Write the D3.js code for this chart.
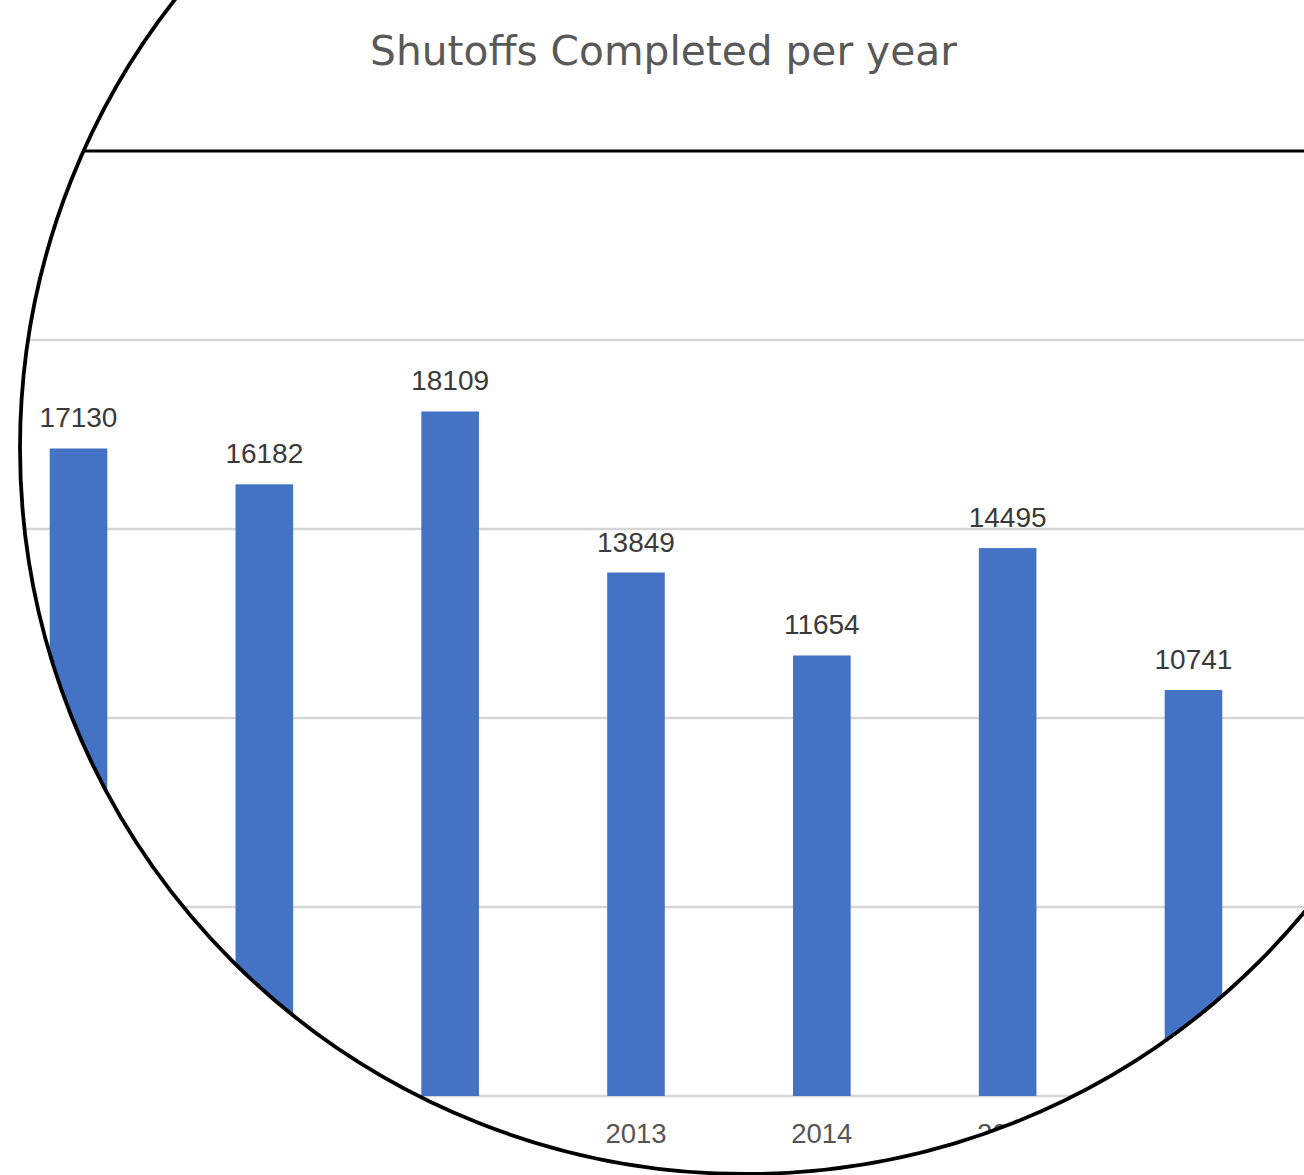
<!DOCTYPE html>
<html>
<head>
<meta charset="utf-8">
<script src="https://cdn.jsdelivr.net/npm/d3@7"></script>
<style>
  html, body { margin: 0; padding: 0; background: #ffffff; }
  svg { display: block; }
</style>
</head>
<body>
<div id="chart"></div>
<script>
const title = "Shutoffs Completed per year";
const years = ["2010", "2011", "2012", "2013", "2014", "2015", "2016"];
const shutoffs = [17130, 16182, 18109, 13849, 11654, 14495, 10741];
const gridValues = [0, 5000, 10000, 15000, 20000];
const topValue = 25000;

const W = 1304, H = 1175;
const svg = d3.select("#chart").append("svg").attr("width", W).attr("height", H);
svg.append("rect").attr("width", W).attr("height", H).attr("fill", "#ffffff");

// magnifier lens
const lens = { cx: 746, cy: 448, r: 726 };
svg.append("defs").append("clipPath").attr("id", "lens")
  .append("circle").attr("cx", lens.cx).attr("cy", lens.cy).attr("r", lens.r);

const g = svg.append("g").attr("clip-path", "url(#lens)");

const step = 185.83;
const x = d3.scaleBand()
  .domain(years)
  .range([78.5 - step / 2, 78.5 - step / 2 + step * years.length])
  .paddingInner(0.69)
  .paddingOuter(0.345);

const y = d3.scaleLinear().domain([0, topValue]).range([1096, 151]);

// gridlines
g.selectAll("line.grid").data(gridValues).join("line")
  .attr("class", "grid")
  .attr("x1", 0).attr("x2", W)
  .attr("y1", d => y(d)).attr("y2", d => y(d))
  .attr("stroke", "#d6d6d6").attr("stroke-width", 2.4);

// top line
g.append("line")
  .attr("x1", 0).attr("x2", W)
  .attr("y1", y(topValue)).attr("y2", y(topValue))
  .attr("stroke", "#000000").attr("stroke-width", 2.8);

// title
const titleText = g.append("text")
  .attr("x", 663.5).attr("y", 65)
  .attr("text-anchor", "middle")
  .attr("font-family", "'DejaVu Sans', sans-serif")
  .attr("font-size", 38)
  .attr("fill", "#595959")
  .text(title);
const len = titleText.node().getComputedTextLength();
if (len > 0) titleText.attr("font-size", Math.max(32, Math.min(42, 38 * 587 / len)));

// bars
const data = years.map((yr, i) => ({ yr, v: shutoffs[i] }));
g.selectAll("rect.bar").data(data).join("rect")
  .attr("class", "bar")
  .attr("x", d => x(d.yr))
  .attr("width", x.bandwidth())
  .attr("y", d => y(d.v))
  .attr("height", d => y(0) - y(d.v))
  .attr("fill", "#4472c4");

// value labels
g.selectAll("text.val").data(data).join("text")
  .attr("class", "val")
  .attr("x", d => x(d.yr) + x.bandwidth() / 2)
  .attr("y", d => y(d.v) - 21)
  .attr("text-anchor", "middle")
  .attr("font-family", "'Liberation Sans', Arial, sans-serif")
  .attr("font-size", 28)
  .attr("fill", "#3a3a3a")
  .text(d => d.v);

// category axis labels
g.selectAll("text.cat").data(years).join("text")
  .attr("class", "cat")
  .attr("x", d => x(d) + x.bandwidth() / 2)
  .attr("y", 1143)
  .attr("text-anchor", "middle")
  .attr("font-family", "'Liberation Sans', Arial, sans-serif")
  .attr("font-size", 27.5)
  .attr("fill", "#555555")
  .text(d => d);

// lens outline
svg.append("circle")
  .attr("cx", lens.cx).attr("cy", lens.cy).attr("r", lens.r)
  .attr("fill", "none").attr("stroke", "#000000").attr("stroke-width", 3.8);
</script>
</body>
</html>
